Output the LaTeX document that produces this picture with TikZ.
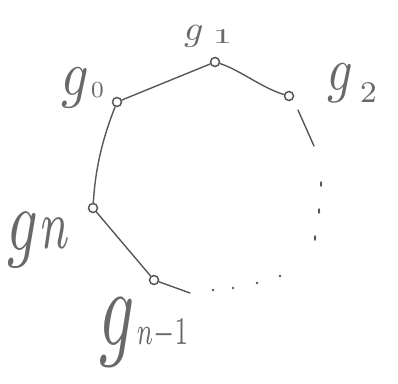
\documentclass[tikz,border=0pt]{standalone}
\usepackage{graphicx}
\definecolor{pencil}{RGB}{88,88,88}
\definecolor{pencillight}{RGB}{105,105,105}
\tikzset{
  vtx/.style={circle,draw=pencil,line width=1.5pt,minimum size=9pt,inner sep=0pt},
  edge/.style={draw=pencil,line width=1.4pt,line cap=round},
  dotmark/.style={circle,fill=pencil,inner sep=0pt,minimum size=2.8pt},
  dashmark/.style={dotmark,minimum size=2.4pt,xscale=0.9,yscale=2.4},
  lbl/.style={text=pencillight,inner sep=0pt,anchor=base west}
}
\begin{document}
\begin{tikzpicture}[x=1pt,y=-1pt]
\useasboundingbox[fill=white] (0,0) rectangle (398,383);
% vertices
\node[vtx] (g0) at (117,102) {};
\node[vtx] (g1) at (215,62) {};
\node[vtx] (g2) at (289,96) {};
\node[vtx] (gn) at (93,208) {};
\node[vtx] (gm) at (154,280) {};
% free ends
\coordinate (s2a) at (298,110);
\coordinate (s2b) at (314,146);
\coordinate (sma) at (190,293);
% edges
\draw[edge] (g0) -- (g1);
\draw[edge] (g1) .. controls (240,70) and (262,88) .. (g2);
\draw[edge] (g0) .. controls (100,145) and (95,175) .. (gn);
\draw[edge] (gn) -- (gm);
\draw[edge] (s2a) -- (s2b);
\draw[edge] (gm) -- (sma);
% dotted continuation
\node[dashmark,rotate=-8] (d1) at (321,184) {};
\node[dashmark,rotate=-10] (d2) at (319,211) {};
\node[dashmark,rotate=-15] (d3) at (315,238) {};
\node[dotmark] (d4) at (280,276) {};
\node[dotmark] (d5) at (257,283) {};
\node[dotmark] (d6) at (233,288) {};
\node[dotmark] (d7) at (213,290) {};
% labels
\node[lbl] (l1) at (184,40) {\scalebox{3.8}[3.5]{$g$}\hspace{9pt}\raisebox{-3pt}{\scalebox{5}[3]{$\scriptstyle 1$}}};
\node[lbl] (l0) at (61,95) {\scalebox{5.4}[6.4]{$g$}\hspace{2pt}\raisebox{-2.5pt}{\scalebox{3.3}{$\scriptstyle 0$}}};
\node[lbl] (l2) at (327,90) {\scalebox{5}[6.2]{$g$}\hspace{7pt}\raisebox{-12pt}{\scalebox{4.3}{$\scriptstyle 2$}}};
\node[lbl] (ln) at (7,250) {\scalebox{6}[8.8]{$g$}\hspace{3pt}\raisebox{2pt}{\scalebox{6}[10]{$\scriptstyle n$}}};
\node[lbl] (lm) at (99,345) {\scalebox{6.9}[11]{$g$}\hspace{2pt}\raisebox{1pt}{\scalebox{3.4}[5.6]{$\scriptstyle n-1$}}};
\end{tikzpicture}
\end{document}
